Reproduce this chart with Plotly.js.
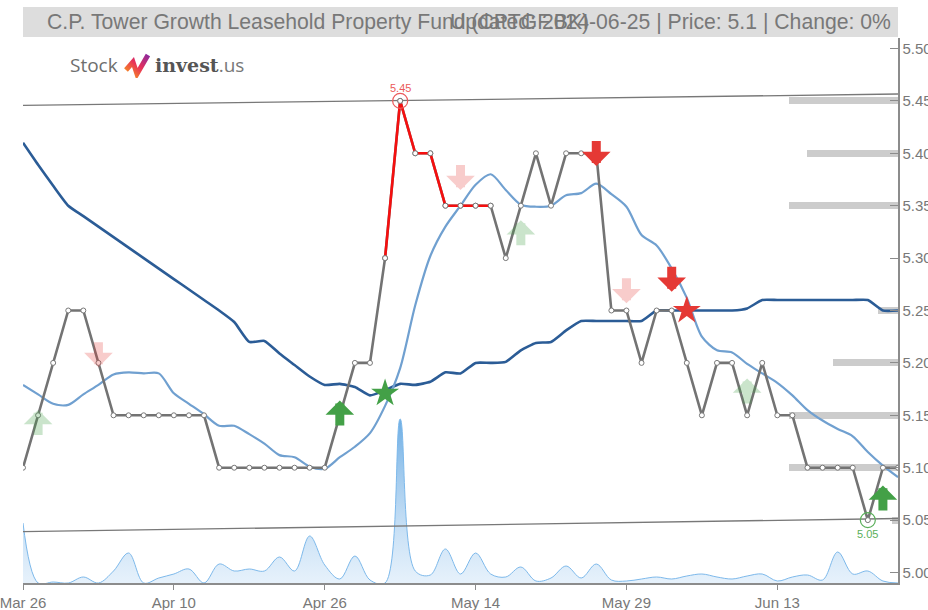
<!DOCTYPE html>
<html><head><meta charset="utf-8">
<script src="https://cdn.plot.ly/plotly-3.0.1.min.js"></script>
<style>html,body{margin:0;padding:0;background:#fff;overflow:hidden}#chart{width:928px;height:610px;}</style>
</head><body><div id="chart"></div>
<script>
// ---- data ----
const dates = ["2024-03-26","2024-03-27","2024-03-28","2024-03-29","2024-04-01","2024-04-02","2024-04-03","2024-04-04","2024-04-05","2024-04-09",
"2024-04-10","2024-04-11","2024-04-12","2024-04-17","2024-04-18","2024-04-19","2024-04-22","2024-04-23","2024-04-24","2024-04-25",
"2024-04-26","2024-04-29","2024-04-30","2024-05-02","2024-05-03","2024-05-07","2024-05-08","2024-05-09","2024-05-10","2024-05-13",
"2024-05-14","2024-05-15","2024-05-16","2024-05-17","2024-05-20","2024-05-21","2024-05-23","2024-05-24","2024-05-27","2024-05-28",
"2024-05-29","2024-05-30","2024-05-31","2024-06-04","2024-06-05","2024-06-06","2024-06-07","2024-06-10","2024-06-11","2024-06-12",
"2024-06-13","2024-06-14","2024-06-17","2024-06-18","2024-06-19","2024-06-20","2024-06-21","2024-06-24","2024-06-25"];
const price = [5.10,5.15,5.20,5.25,5.25,5.20,5.15,5.15,5.15,5.15,
5.15,5.15,5.15,5.10,5.10,5.10,5.10,5.10,5.10,5.10,
5.10,5.15,5.20,5.20,5.30,5.45,5.40,5.40,5.35,5.35,
5.35,5.35,5.30,5.35,5.40,5.35,5.40,5.40,5.40,5.25,
5.25,5.20,5.25,5.25,5.20,5.15,5.20,5.20,5.15,5.20,
5.15,5.15,5.10,5.10,5.10,5.10,5.05,5.10,5.10];
const maLong = [5.410,5.389,5.369,5.350,5.340,5.330,5.320,5.310,5.300,5.290,
5.280,5.270,5.260,5.250,5.239,5.220,5.221,5.209,5.198,5.187,
5.179,5.180,5.177,5.169,5.174,5.180,5.179,5.182,5.191,5.190,
5.200,5.200,5.201,5.212,5.219,5.220,5.231,5.240,5.240,5.240,
5.240,5.240,5.250,5.250,5.250,5.250,5.250,5.250,5.252,5.260,
5.260,5.260,5.260,5.260,5.260,5.260,5.260,5.250,5.250];
const maShort = [5.179,5.170,5.161,5.160,5.170,5.179,5.189,5.191,5.190,5.190,
5.171,5.161,5.151,5.140,5.140,5.132,5.123,5.112,5.110,5.101,
5.099,5.110,5.120,5.133,5.159,5.195,5.255,5.302,5.330,5.350,
5.370,5.380,5.365,5.351,5.349,5.350,5.360,5.362,5.371,5.361,
5.349,5.322,5.312,5.290,5.262,5.225,5.212,5.210,5.199,5.190,
5.181,5.169,5.155,5.145,5.137,5.130,5.115,5.102,5.091];
const volume = [60,0,1,0,6,0,12,30,0,5,
9,14,0,19,12,14,12,26,12,47,
18,4,27,3,0,164,12,8,34,9,
30,9,6,16,2,5,17,5,19,3,
2,4,6,4,7,9,6,4,7,9,
2,6,8,3,31,9,12,2,0];
const resistance = [5.4457, 5.4565];
const support = [5.0390, 5.0515];
const levelPrices = [5.45,5.40,5.35,5.25,5.20,5.15,5.10,5.05];
const levelStrength = [6,5,6,1.1,3.6,6,6,0.35];
const upIdx = [1,21,33,48,57];
const upY = [5.144,5.153,5.325,5.174,5.072];
const upStrong = [false,true,false,false,true];
const downIdx = [5,29,38,40,43];
const downY = [5.207,5.376,5.399,5.268,5.279];
const downStrong = [false,false,true,false,true];
const starIdx = [24,44];
const starY = [5.171,5.250];
const starColor = ["rgb(67,160,71)","rgb(229,57,53)"];
const redRange = [24,31];
const highIdx = 25, lowIdx = 56;
const tickEvery = 10;
const titleText = "C.P. Tower Growth Leasehold Property Fund (CPTGF.BK)";
const updateText = "Updated: 2024-06-25 | Price: 5.1 | Change: 0%";

// ---- build ----
const idx = dates.map((d,i)=>i);
const last = idx.length-1;
const mon = ["Jan","Feb","Mar","Apr","May","Jun","Jul","Aug","Sep","Oct","Nov","Dec"];
const tickvals = idx.filter(i=>i%tickEvery===0);
const ticktext = tickvals.map(i=>{const p=dates[i].split("-");return mon[+p[1]-1]+" "+(+p[2]);});
const FONT = "Liberation Sans, Arial, sans-serif";
const GREEN="rgb(67,160,71)", RED="rgb(229,57,53)";

const traces = [];
traces.push({x:idx,y:volume,type:"scatter",mode:"lines",xaxis:"x",yaxis:"y",
  line:{color:"rgb(125,185,235)",width:1,shape:"spline",smoothing:1},
  fill:"tozeroy",fillgradient:{type:"vertical",start:0,stop:Math.max(...volume),
  colorscale:[[0,"rgba(210,230,248,0.55)"],[1,"rgba(95,165,225,0.9)"]]},hoverinfo:"skip"});
traces.push({type:"bar",orientation:"h",y:levelPrices,x:levelStrength.map(s=>-s*1.2),base:last,
  width:0.0067,xaxis:"x",yaxis:"y2",marker:{color:"rgb(204,204,204)",line:{width:0}},hoverinfo:"skip"});
traces.push({x:[0,last],y:resistance,mode:"lines",xaxis:"x",yaxis:"y2",line:{color:"rgb(120,120,120)",width:1.4}});
traces.push({x:[0,last],y:support,mode:"lines",xaxis:"x",yaxis:"y2",line:{color:"rgb(120,120,120)",width:1.4}});
traces.push({x:idx,y:maLong,mode:"lines",xaxis:"x",yaxis:"y2",line:{color:"rgb(43,92,150)",width:2.6,shape:"spline",smoothing:0.5}});
traces.push({x:idx,y:maShort,mode:"lines",xaxis:"x",yaxis:"y2",line:{color:"rgb(112,160,208)",width:2.2,shape:"spline",smoothing:0.8}});
traces.push({x:idx,y:price,mode:"lines+markers",xaxis:"x",yaxis:"y2",line:{color:"rgb(115,115,115)",width:2.6},
  marker:{size:5,color:"#fff",line:{color:"rgb(120,120,120)",width:1}}});
const rI = idx.slice(redRange[0],redRange[1]+1);
traces.push({x:rI,y:rI.map(i=>price[i]),mode:"lines+markers",xaxis:"x",yaxis:"y2",line:{color:"rgb(245,15,15)",width:2.6},
  marker:{size:5,color:"#fff",line:{color:"rgb(120,120,120)",width:1}}});
traces.push({x:[highIdx],y:[price[highIdx]],mode:"markers",xaxis:"x",yaxis:"y2",
  marker:{symbol:"circle-open",size:15,color:"rgb(235,90,90)",line:{width:1.2}}});
traces.push({x:[lowIdx],y:[price[lowIdx]],mode:"markers",xaxis:"x",yaxis:"y2",
  marker:{symbol:"circle-open",size:15,color:"rgb(90,175,90)",line:{width:1.2}}});
traces.push({x:starIdx,y:starY,mode:"markers",xaxis:"x",yaxis:"y2",
  marker:{symbol:"star",size:21,color:starColor,line:{width:0}}});

const ann = [];
function arrow(i,y,up,strong){
  const c = up ? (strong?GREEN:"rgba(67,160,71,0.28)") : (strong?RED:"rgba(229,57,53,0.25)");
  ann.push({x:i,y:y,xref:"x",yref:"y2",text:" ",font:{size:1},borderpad:0,showarrow:true,
    arrowhead:1,arrowwidth:9,arrowsize:0.53,arrowcolor:c,ax:0,ay:up?26:-26,yshift:up?11.6:-11.6,standoff:0});
}
upIdx.forEach((i,k)=>arrow(i,upY[k],true,upStrong[k]));
downIdx.forEach((i,k)=>arrow(i,downY[k],false,downStrong[k]));
ann.push({x:highIdx,y:price[highIdx],xref:"x",yref:"y2",text:price[highIdx].toFixed(2),showarrow:false,
  yshift:13,font:{size:11,color:"rgb(235,90,90)",family:FONT}});
ann.push({x:lowIdx,y:price[lowIdx],xref:"x",yref:"y2",text:price[lowIdx].toFixed(2),showarrow:false,
  yshift:-14,font:{size:11,color:"rgb(90,175,90)",family:FONT}});
// title
ann.push({xref:"paper",yref:"paper",x:0.0251,y:1.0294,xanchor:"left",yanchor:"middle",text:titleText,showarrow:false,
  font:{size:21.2,color:"rgb(120,120,120)",family:FONT}});
ann.push({xref:"paper",yref:"paper",x:0.9943,y:1.0294,xanchor:"right",yanchor:"middle",text:updateText,showarrow:false,
  font:{size:21.2,color:"rgb(120,120,120)",family:FONT}});
// logo
ann.push({xref:"paper",yref:"paper",x:0.0514,y:0.9505,xanchor:"left",yanchor:"middle",text:"Stock",showarrow:false,
  font:{size:19,color:"rgb(110,110,110)",family:"Open Sans, sans-serif"}});
ann.push({xref:"paper",yref:"paper",x:0.1486,y:0.9505,xanchor:"left",yanchor:"middle",
  text:'<span style="font-family:DejaVu Serif;font-weight:bold;color:rgb(85,85,85)">invest</span>.us',showarrow:false,
  font:{size:19,color:"rgb(120,120,120)",family:"Open Sans, sans-serif"}});

const svg = '<svg xmlns="http://www.w3.org/2000/svg" width="26" height="26" viewBox="0 0 26 26">'+
 '<defs><linearGradient id="g" x1="0" y1="1" x2="1" y2="0"><stop offset="0" stop-color="#f7931e"/><stop offset="0.5" stop-color="#e8305a"/><stop offset="1" stop-color="#8e2a9c"/></linearGradient></defs>'+
 '<polyline points="2,18 9,10 13,22 24,3" fill="none" stroke="url(#g)" stroke-width="5" stroke-linejoin="miter"/></svg>';
const images = [{source:"data:image/svg+xml;base64,"+btoa(svg),xref:"paper",yref:"paper",x:0.1154,y:0.9743,
  sizex:0.0297,sizey:0.0477,xanchor:"left",yanchor:"top",sizing:"stretch",layer:"above"}];

const layout = {
  width:928,height:610,margin:{l:23,r:30,t:38,b:27},paper_bgcolor:"#fff",plot_bgcolor:"#fff",
  showlegend:false,font:{family:FONT,color:"rgb(120,120,120)"},
  xaxis:{range:[0,last],tickvals:tickvals,ticktext:ticktext,ticks:"outside",ticklen:5,tickcolor:"rgb(140,140,140)",
    showline:true,linecolor:"rgb(140,140,140)",linewidth:1.5,showgrid:false,zeroline:false,ticklabeloverflow:"allow",
    tickfont:{size:15,color:"rgb(120,120,120)"}},
  yaxis:{range:[0,545],visible:false,fixedrange:true},
  yaxis2:{overlaying:"y",side:"right",anchor:"x",range:[4.99,5.51],tick0:5,dtick:0.05,tickformat:".2f",
    ticks:"inside",ticklen:8,tickcolor:"rgb(140,140,140)",showline:true,linecolor:"rgb(140,140,140)",linewidth:1.5,
    showgrid:false,zeroline:false,ticklabeloverflow:"allow",tickfont:{size:15,color:"rgb(120,120,120)"}},
  shapes:[{type:"rect",xref:"paper",yref:"paper",x0:0,x1:1,y0:1.0018,y1:1.0569,fillcolor:"#dddddd",line:{width:0},layer:"below"}],
  annotations:ann,images:images,bargap:0
};
Plotly.newPlot("chart",traces,layout,{staticPlot:true,displayModeBar:false});
</script></body></html>
